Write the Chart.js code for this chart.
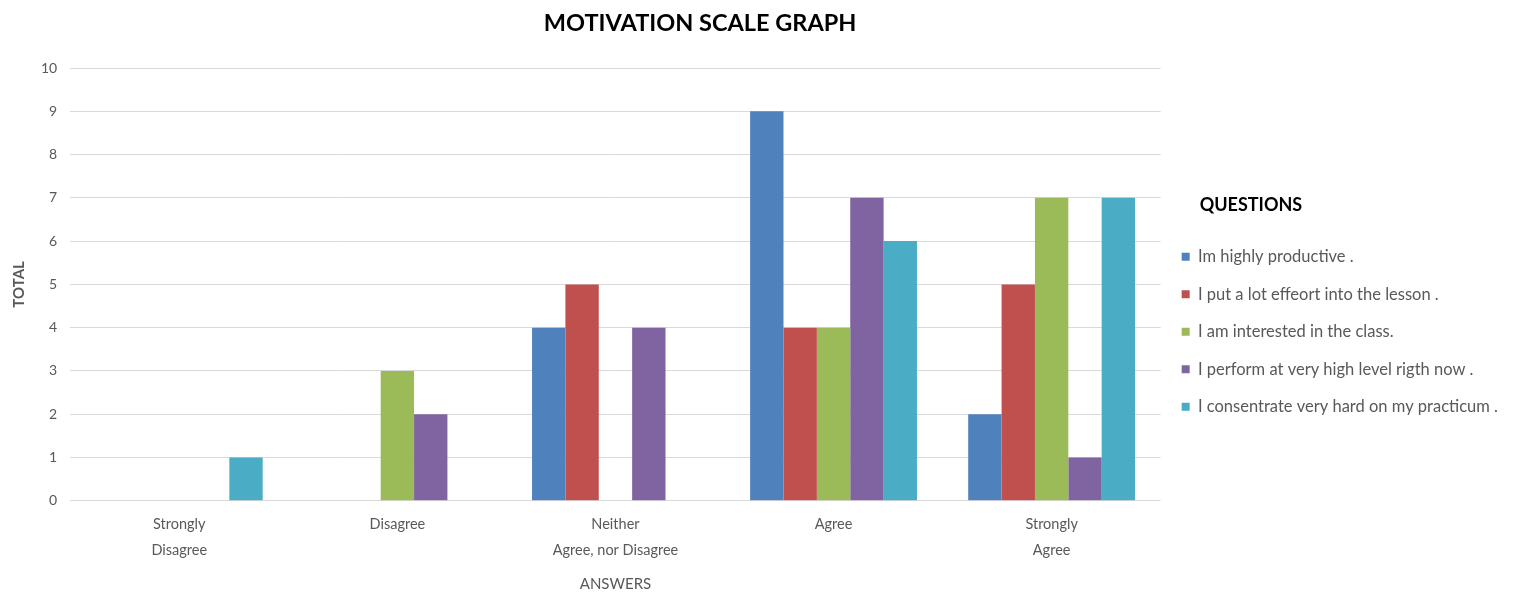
<!DOCTYPE html>
<html><head><meta charset="utf-8">
<script src="https://cdn.jsdelivr.net/npm/chart.js@4"></script>
<style>html,body{margin:0;padding:0;background:#fff}#wrap{width:1517px;height:593px}</style>
</head><body><div id="wrap"><canvas id="c" width="1517" height="593"></canvas></div>
<script>
const chartTitle = 'MOTIVATION SCALE GRAPH';
const legendTitle = 'QUESTIONS';
const categories = [['Strongly','Disagree'], 'Disagree', ['Neither','Agree, nor Disagree'], 'Agree', ['Strongly','Agree']];
const seriesNames = ['Im highly productive .', 'I put a lot effeort into the lesson .', 'I am interested in the class.', 'I perform at very high level rigth now .', 'I consentrate very hard on my practicum .'];
const productive = [0, 0, 4, 9, 2];
const effort = [0, 0, 5, 4, 5];
const interested = [0, 3, 0, 4, 7];
const perform = [0, 2, 4, 7, 1];
const concentrate = [1, 0, 0, 6, 7];
const colors = ['#4F81BD', '#C0504D', '#9BBB59', '#8064A2', '#4BACC6'];
const yTicks = [0,1,2,3,4,5,6,7,8,9,10];

const font = "Lato, 'Open Sans', sans-serif";
const grey = '#595959';
const values = [productive, effort, interested, perform, concentrate];

const titlePlugin = {
  id: 'titlePlugin',
  afterDraw(chart) {
    const ctx = chart.ctx;
    ctx.save();
    ctx.font = "bold 23.5px " + font;
    ctx.fillStyle = '#000';
    ctx.textAlign = 'center';
    ctx.textBaseline = 'middle';
    ctx.fillText(chartTitle, chart.width * 0.4615, 23);
    const hb = chart.legend && chart.legend.legendHitBoxes && chart.legend.legendHitBoxes[0];
    if (hb) {
      ctx.font = "bold 18px " + font;
      ctx.textAlign = 'left';
      ctx.fillText(legendTitle, hb.left + 18, hb.top + hb.height / 2 - 52);
    }
    ctx.restore();
  }
};

new Chart(document.getElementById('c'), {
  type: 'bar',
  data: {
    labels: categories,
    datasets: seriesNames.map((n, i) => ({
      label: n, data: values[i], backgroundColor: colors[i], borderWidth: 0,
      barPercentage: 1.0, categoryPercentage: 0.765
    }))
  },
  options: {
    responsive: false,
    animation: false,
    layout: { padding: { top: 68, left: 10, right: 9, bottom: 0 } },
    plugins: {
      title: { display: false },
      tooltip: { enabled: false },
      legend: {
        position: 'right',
        align: 'start',
        title: { display: true, text: '', font: { family: font, size: 18, weight: 'bold' }, padding: { top: 128, bottom: 10 }, position: 'start' },
        labels: {
          boxWidth: 8, boxHeight: 8, padding: 21,
          color: grey, font: { family: font, size: 16.5 }
        }
      }
    },
    scales: {
      x: {
        grid: { display: false, drawTicks: false },
        border: { display: false },
        ticks: { color: grey, font: { family: font, size: 14.5, lineHeight: 1.8 }, padding: 10, maxRotation: 0, autoSkip: false },
        title: { display: true, text: 'ANSWERS', color: grey, font: { family: font, size: 15 }, padding: { top: 2, bottom: 0 } }
      },
      y: {
        min: 0, max: 10,
        afterBuildTicks(axis) { axis.ticks = yTicks.map(v => ({ value: v })); },
        grid: { color: '#d9d9d9', lineWidth: 1, drawTicks: false },
        border: { display: false },
        ticks: { color: grey, font: { family: font, size: 14 }, padding: 13 },
        title: { display: true, text: 'TOTAL', color: grey, font: { family: font, size: 15, weight: 'bold' }, padding: { top: 0, bottom: 0 } }
      }
    }
  },
  plugins: [titlePlugin]
});
</script></body></html>
